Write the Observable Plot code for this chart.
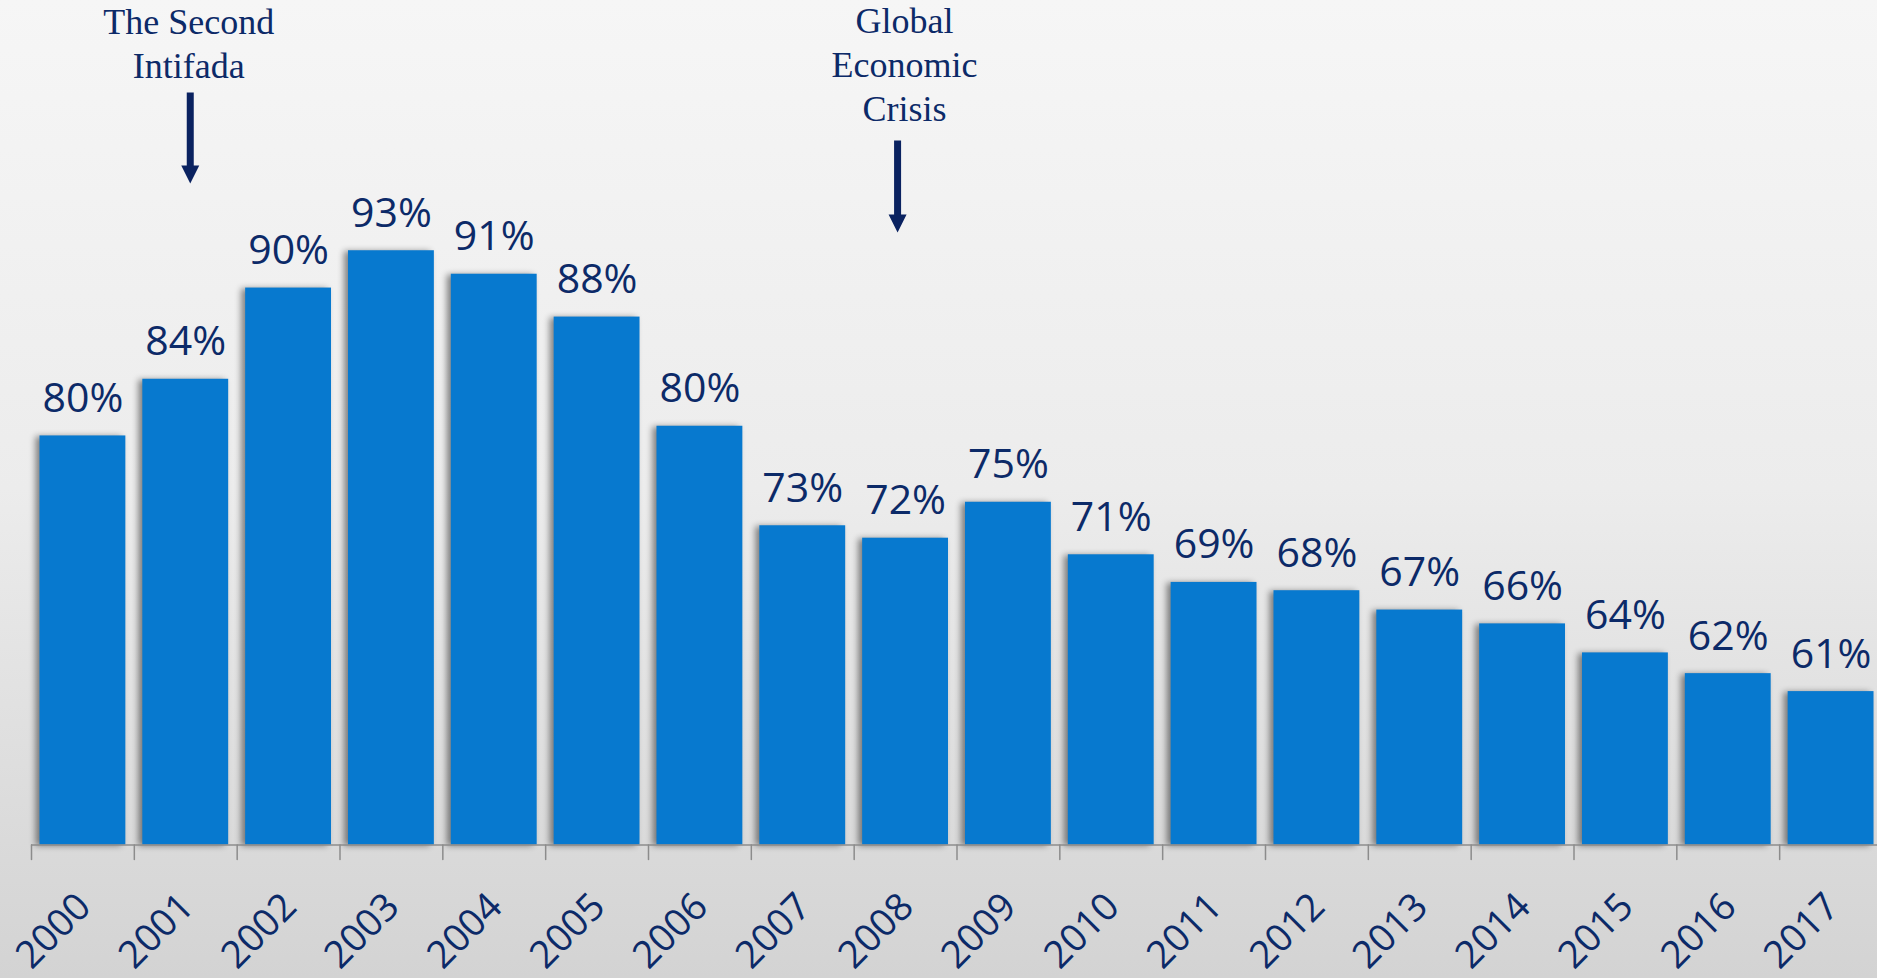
<!DOCTYPE html>
<html>
<head>
<meta charset="utf-8">
<script src="https://cdn.jsdelivr.net/npm/d3@7"></script>
<script src="https://cdn.jsdelivr.net/npm/@observablehq/plot@0.6"></script>
<style>
  html, body { margin: 0; padding: 0; width: 1877px; height: 978px; overflow: hidden; }
  body { background: linear-gradient(to bottom, #f6f6f6 0%, #ececec 50%, #d3d3d3 100%); }
  #chart { width: 1877px; height: 978px; overflow: hidden; }
  #chart svg { display: block; max-width: none !important; }
</style>
</head>
<body>
<div id="chart"></div>
<script>
// ---- data ----
const years = ["2000","2001","2002","2003","2004","2005","2006","2007","2008","2009","2010","2011","2012","2013","2014","2015","2016","2017"];
const values = [79.6, 83.7, 90.3, 93.0, 91.3, 88.2, 80.3, 73.1, 72.2, 74.8, 71.0, 69.0, 68.4, 67.0, 66.0, 63.9, 62.4, 61.1];
const annotationYears = ["2001", "2008"];
const annotationTexts = ["The Second\nIntifada", "Global\nEconomic\nCrisis"];
const yDomain = [50, 100];

// ---- layout / style ----
const width = 1882, height = 978;
const marginLeft = 31, marginRight = 0, marginTop = 153.5, marginBottom = 133.5;
const step = (width - marginLeft - marginRight) / years.length;
const navy = "#0c2a68";
const arrowNavy = "#0a2260";
const barBlue = "#0779cf";
const axisGray = "#8c8c8c";

const data = years.map((year, i) => ({year, value: values[i]}));
const annotations = annotationYears.map((year, i) => ({year, text: annotationTexts[i]}));

const lineShape = {
  draw(context, l) { context.moveTo(0, 0); context.lineTo(0, -l); }
};
const arrowShape = {
  draw(context, l) {
    const w = 3.5, hw = 9, hl = 18;
    context.moveTo(-w, 0);
    context.lineTo(-w, -(l - hl));
    context.lineTo(-hw, -(l - hl));
    context.lineTo(0, -l);
    context.lineTo(hw, -(l - hl));
    context.lineTo(w, -(l - hl));
    context.lineTo(w, 0);
    context.closePath();
  }
};

const chart = Plot.plot({
  width, height, marginLeft, marginRight, marginTop, marginBottom,
  style: {"background": "transparent", "max-width": "none"},
  x: {type: "band", domain: years, paddingInner: 0.165, paddingOuter: 0.0825, round: false, axis: null},
  y: {domain: yDomain, axis: null},
  marks: [
    Plot.barY(data, {x: "year", y1: yDomain[0], y2: "value", fill: barBlue}),
    Plot.ruleY([yDomain[0]], {stroke: axisGray, strokeWidth: 1.5}),
    Plot.vector(years, {x: d => d, frameAnchor: "bottom", dx: -step / 2, length: 14.5, anchor: "start", rotate: 180, shape: lineShape, stroke: axisGray, strokeWidth: 1.5}),
    Plot.text(data, {x: "year", y: "value", text: d => Math.round(d.value) + "%", lineAnchor: "bottom", dy: -24, fontSize: 41, fontFamily: "Open Sans", fill: navy}),
    Plot.text(years, {x: d => d, frameAnchor: "bottom", text: d => d, rotate: -45, textAnchor: "end", lineAnchor: "bottom", dx: 10, dy: 64, fontSize: 38, fontFamily: "Open Sans", fill: navy}),
    // annotations
    Plot.text(annotations.filter(d => d.year === "2001"), {x: "year", frameAnchor: "top", text: "text", lineAnchor: "bottom", lineHeight: 1.21, dy: -76.5, dx: 3, fontSize: 36, fontFamily: "Liberation Serif", fill: navy}),
    Plot.text(annotations.filter(d => d.year === "2008"), {x: "year", frameAnchor: "top", text: "text", lineAnchor: "bottom", lineHeight: 1.21, dy: -33.5, dx: -1, fontSize: 36, fontFamily: "Liberation Serif", fill: navy}),
    Plot.vector(annotations.filter(d => d.year === "2001"), {x: "year", frameAnchor: "top", dy: -61.5, dx: 4.5, length: 91, anchor: "start", rotate: 180, shape: arrowShape, fill: arrowNavy, stroke: "none"}),
    Plot.vector(annotations.filter(d => d.year === "2008"), {x: "year", frameAnchor: "top", dy: -13.5, dx: -8, length: 92, anchor: "start", rotate: 180, shape: arrowShape, fill: arrowNavy, stroke: "none"})
  ]
});

const barGroup = chart.querySelector('g[aria-label="bar"]');
if (barGroup) barGroup.style.filter = "drop-shadow(-4px 1px 3px rgba(0,0,0,0.45))";
document.getElementById("chart").appendChild(chart);
</script>
</body>
</html>
